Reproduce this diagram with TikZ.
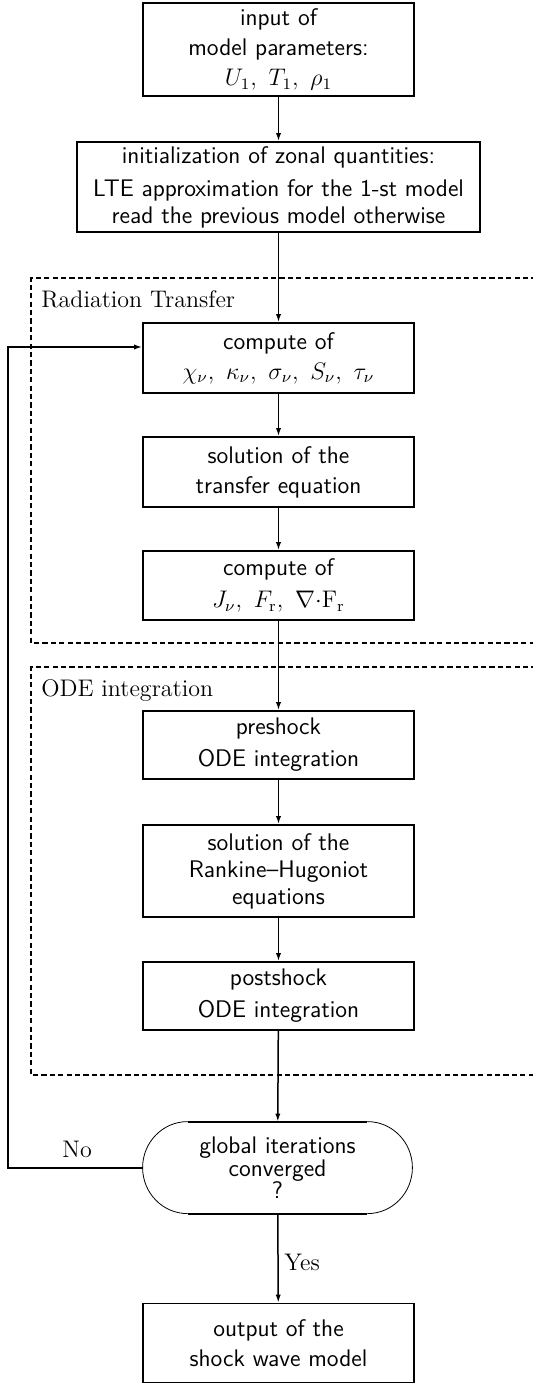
\documentclass[tikz,border=0pt]{standalone}
\usepackage{tikz}
\usetikzlibrary{arrows.meta,calc}
\begin{document}
\begin{tikzpicture}[x=0.5pt,y=-0.5pt,
  box/.style={draw,line width=0.85pt,align=center,inner sep=0pt,
    font=\sffamily\fontsize{12}{15}\selectfont},
  arr/.style={line width=0.75pt,-{Latex[length=4pt,width=2.6pt]}},
  frame/.style={line width=0.65pt,dash pattern=on 2.6pt off 1.6pt},
  lab/.style={font=\rmfamily\fontsize{12}{14}\selectfont,inner sep=0pt,anchor=base west}]
\useasboundingbox (0,0) rectangle (532,1384);

% dashed frames
\draw[frame] (545,278) -- (31,278) -- (31,643) -- (545,643);
\draw[frame] (545,667) -- (31,667) -- (31,1075) -- (545,1075);
\node[lab] (lrt) at (41,308) {Radiation Transfer};
\node[lab] (lode) at (41,696) {ODE integration};

% boxes
\node[box,minimum width=135.5pt,minimum height=46.5pt] (in) at (278.5,49.5)
  {input of\\model parameters:\\$U_1,\ T_1,\ \rho_1$};
\node[box,minimum width=201.5pt,minimum height=45pt] (init) at (278.5,187)
  {initialization of zonal quantities:\\[1.5pt]LTE approximation for the 1-st model\\[-1.5pt]read the previous model otherwise};
\node[box,minimum width=135.5pt,minimum height=35pt] (comp1) at (278.5,358)
  {compute of\\$\chi_\nu,\ \kappa_\nu,\ \sigma_\nu,\ S_\nu,\ \tau_\nu$};
\node[box,minimum width=135.5pt,minimum height=35pt] (sol) at (278.5,472)
  {solution of the\\transfer equation};
\node[box,minimum width=135.5pt,minimum height=34.5pt] (comp2) at (278.5,585.5)
  {compute of\\[1pt]$J_\nu,\ F_{\rm r},\ \nabla{\cdot}{\rm F}_{\rm r}$};
\node[box,minimum width=135.5pt,minimum height=34pt] (pre) at (278.5,745)
  {preshock\\[1pt]ODE integration};
\node[box,minimum width=135.5pt,minimum height=46pt,font=\sffamily\fontsize{12}{13.5}\selectfont] (rh) at (278.5,871)
  {solution of the\\Rankine--Hugoniot\\equations};
\node[box,minimum width=135.5pt,minimum height=34pt] (post) at (278.5,996)
  {postshock\\[1pt]ODE integration};
\node[box,minimum width=135.5pt,minimum height=39.5pt] (out) at (278.5,1343)
  {output of the\\shock wave model};

% decision
\node[align=center,inner sep=0pt,minimum width=134.5pt,minimum height=46pt,
  font=\sffamily\fontsize{12}{11.3}\selectfont] (dec) at (277.5,1168)
  {global iterations\\converged\\?};
\draw[line width=0.4pt] ($(dec.north west)+(45,0)$) arc[start angle=90,end angle=270,x radius=22.5pt,y radius=23pt];
\draw[line width=0.4pt] ($(dec.north east)+(-45,0)$) arc[start angle=90,end angle=-90,x radius=22.5pt,y radius=23pt];
\draw[line width=0.95pt] ($(dec.north west)+(45,0)$) -- ($(dec.north east)+(-45,0)$);
\draw[line width=0.95pt] ($(dec.south west)+(45,0)$) -- ($(dec.south east)+(-45,0)$);

% connectors
\draw[arr] (in) -- (init);
\draw[arr] (init) -- (comp1);
\draw[arr] (comp1) -- (sol);
\draw[arr] (sol) -- (comp2);
\draw[arr] (comp2) -- (pre);
\draw[arr] (pre) -- (rh);
\draw[arr] (rh) -- (post);
\draw[arr] (post) -- (dec);
\draw[arr] (dec) -- (out);
\coordinate (fb) at (8,347);
\draw[arr] (dec.west) -| (fb) -- (fb -| comp1.west);

\node[lab] (no) at (62,1157) {No};
\node[lab] (yes) at (284,1270) {Yes};
\end{tikzpicture}
\end{document}
